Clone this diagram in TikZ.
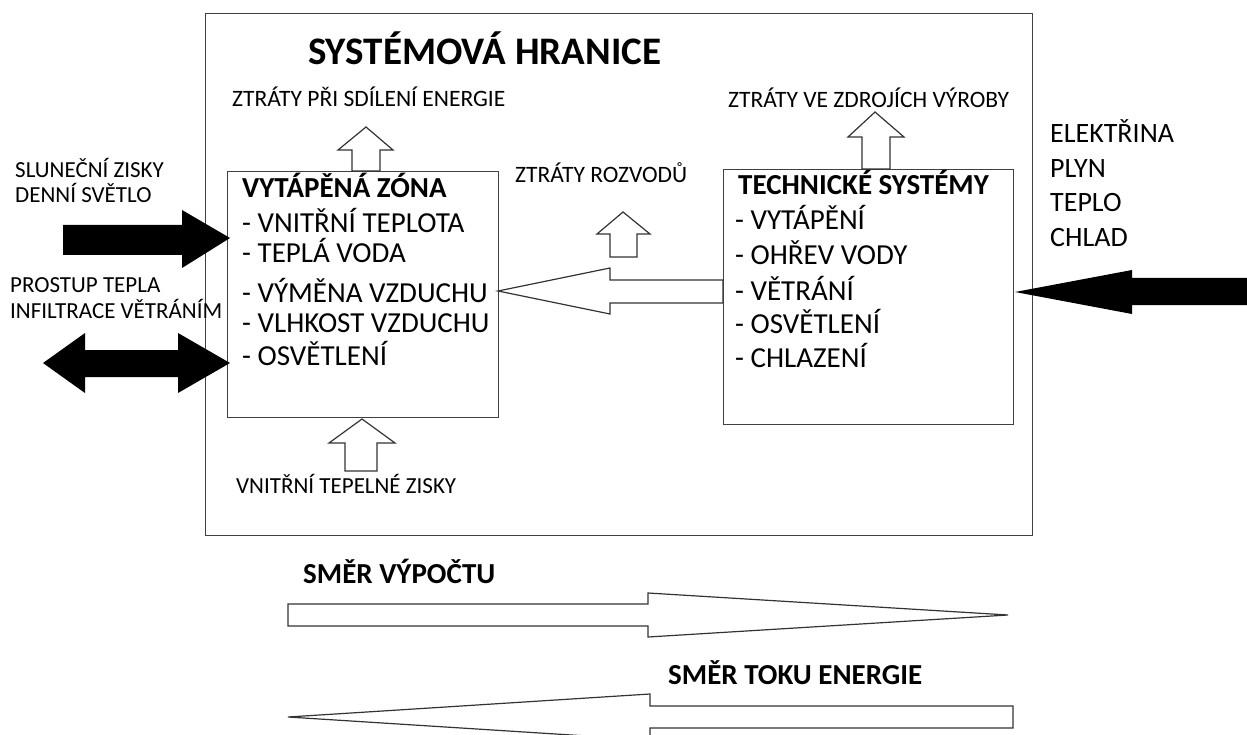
\documentclass[tikz,border=0pt]{standalone}
\usepackage{fontspec}
\setmainfont{Carlito}
\begin{document}
\begin{tikzpicture}[x=1pt,y=-1pt,
  frame/.style={draw=black!75, line width=1.3pt, inner sep=0pt, anchor=north west},
  hollow/.style={draw=black!80, fill=white, line width=1.2pt},
  lbl/.style={anchor=base west, inner sep=0pt, font=\fontsize{23.5}{28}\selectfont},
  side/.style={anchor=base west, inner sep=0pt, font=\fontsize{23}{27}\selectfont},
  item/.style={anchor=base west, inner sep=0pt, font=\fontsize{29}{34}\selectfont},
  feed/.style={anchor=base west, inner sep=0pt, font=\fontsize{28}{33}\selectfont},
  hdr/.style={anchor=base west, inner sep=0pt, font=\fontsize{29}{34}\selectfont\bfseries}]
\clip (0,0) rectangle (1247,735);

% boxes
\node (boundary) [frame, minimum width=827pt, minimum height=522pt] at (205,13) {};
\node (zone) [frame, minimum width=271pt, minimum height=246pt] at (227,171) {};
\node (tech) [frame, minimum width=290pt, minimum height=255pt] at (723,169) {};

% texts
\node (title) [anchor=base west, inner sep=0pt, font=\fontsize{39}{46}\selectfont\bfseries] at (308,65) {SYSTÉMOVÁ HRANICE};
\node (share) [lbl] at (232,107) {ZTRÁTY PŘI SDÍLENÍ ENERGIE};
\node (distr) [lbl] at (515,183) {ZTRÁTY ROZVODŮ};
\node (source) [lbl] at (728,108) {ZTRÁTY VE ZDROJÍCH VÝROBY};
\node (sun1) [side] at (15,178) {SLUNEČNÍ ZISKY};
\node (sun2) [side] at (15,203) {DENNÍ SVĚTLO};
\node (trans1) [side] at (10,292) {PROSTUP TEPLA};
\node (trans2) [side] at (10,318) {INFILTRACE VĚTRÁNÍM};
\node (internal) [side] at (236,493) {VNITŘNÍ TEPELNÉ ZISKY};

\node (elec) [feed] at (1050,143) {ELEKTŘINA};
\node (gas) [feed] at (1050,178) {PLYN};
\node (heat) [feed] at (1050,212) {TEPLO};
\node (cold) [feed] at (1050,247) {CHLAD};

\node (zonehdr) [hdr] at (242,198) {VYTÁPĚNÁ ZÓNA};
\node (z1) [item] at (242,233) {- VNITŘNÍ TEPLOTA};
\node (z2) [item] at (242,262) {- TEPLÁ VODA};
\node (z3) [item] at (242,302) {- VÝMĚNA VZDUCHU};
\node (z4) [item] at (242,332) {- VLHKOST VZDUCHU};
\node (z5) [item] at (242,365) {- OSVĚTLENÍ};

\node (techhdr) [hdr] at (738,195) {TECHNICKÉ SYSTÉMY};
\node (t1) [item] at (735,230) {- VYTÁPĚNÍ};
\node (t2) [item] at (735,265) {- OHŘEV VODY};
\node (t3) [item] at (735,300) {- VĚTRÁNÍ};
\node (t4) [item] at (735,333) {- OSVĚTLENÍ};
\node (t5) [item] at (735,367) {- CHLAZENÍ};

\node (calc) [hdr] at (303,583) {SMĚR VÝPOČTU};
\node (flow) [hdr] at (668,684) {SMĚR TOKU ENERGIE};

% loss arrows
\coordinate (sharetip) at (366,127);
\draw [hollow] (sharetip) -- ++(27,23) -- ++(-13,0) -- ++(0,21) -- ++(-28,0) -- ++(0,-21) -- ++(-14,0) -- cycle;
\coordinate (distrtip) at (623,212);
\draw [hollow] (distrtip) -- ++(27,22) -- ++(-13,0) -- ++(0,23) -- ++(-27,0) -- ++(0,-23) -- ++(-13,0) -- cycle;
\coordinate (sourcetip) at (875,112);
\draw [hollow] (sourcetip) -- ++(29,25) -- ++(-14,0) -- ++(0,32) -- ++(-28,0) -- ++(0,-32) -- ++(-14,0) -- cycle;
\coordinate (internaltip) at (362,419);
\draw [hollow] (internaltip) -- ++(33,24) -- ++(-18,0) -- ++(0,28) -- ++(-32,0) -- ++(0,-28) -- ++(-16,0) -- cycle;

% energy from technical systems to zone
\coordinate (supplytip) at (498,291);
\draw [hollow] (supplytip) -- ++(112,-23) -- ++(0,12) -- ++(113,0) -- ++(0,23) -- ++(-113,0) -- ++(0,11) -- cycle;

% outside flows
\coordinate (suntip) at (230,238);
\fill (suntip) -- ++(-48,-28) -- ++(0,15) -- ++(-119,0) -- ++(0,30) -- ++(119,0) -- ++(0,13) -- cycle;
\coordinate (transtip) at (230,363);
\fill (transtip) -- ++(-52,-30) -- ++(0,17) -- ++(-93,0) -- ++(0,-17) -- ++(-42,30) -- ++(42,30) -- ++(0,-16) -- ++(93,0) -- ++(0,16) -- cycle;
\coordinate (feedtip) at (1015,292);
\fill (feedtip) -- ++(117,-22) -- ++(0,8) -- ++(140,0) -- ++(0,27) -- ++(-140,0) -- ++(0,9) -- cycle;

% directions
\coordinate (calctip) at (1008,615);
\draw [hollow] (calctip) -- ++(-360,-22) -- ++(0,11) -- ++(-360,0) -- ++(0,22) -- ++(360,0) -- ++(0,11) -- cycle;
\coordinate (flowtip) at (288,717);
\draw [hollow] (flowtip) -- ++(362,-23) -- ++(0,12) -- ++(363,0) -- ++(0,22) -- ++(-363,0) -- ++(0,12) -- cycle;
\end{tikzpicture}
\end{document}
